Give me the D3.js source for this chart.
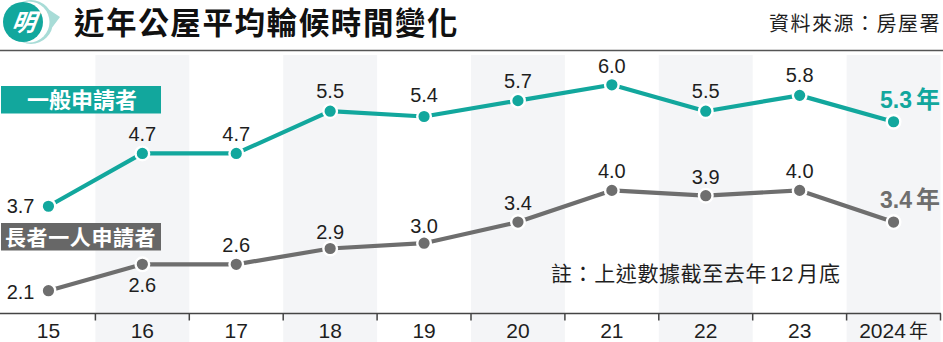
<!DOCTYPE html>
<html>
<head>
<meta charset="utf-8">
<script src="https://cdn.jsdelivr.net/npm/d3@7/dist/d3.min.js"></script>
<style>
  html, body { margin: 0; padding: 0; background: #fff; }
  svg { display: block; }
</style>
</head>
<body>
<svg id="chart" width="943" height="342"></svg>
<script>
// Average waiting time for public rental housing (years)
const years = ["15", "16", "17", "18", "19", "20", "21", "22", "23", "2024"];
const yearUnit = "年";
const generalApplicants = [3.7, 4.7, 4.7, 5.5, 5.4, 5.7, 6.0, 5.5, 5.8, 5.3];
const elderlyOnePerson = [2.1, 2.6, 2.6, 2.9, 3.0, 3.4, 4.0, 3.9, 4.0, 3.4];
const seriesNames = ["一般申請者", "長者一人申請者"];
const titleText = "近年公屋平均輪候時間變化";
const sourceText = "資料來源：房屋署";
const notePre = "註：上述數據截至去年";
const noteNum = "12";
const notePost = "月底";

const TEAL = "#12a79d";
const GREY = "#6e6e6e";
const INK = "#1e1e1e";
const CJK = "'Noto Sans CJK TC', 'Noto Sans CJK SC', sans-serif";
const NUM = "'Liberation Sans', Arial, Helvetica, sans-serif";

const W = 943, H = 342;
const svg = d3.select("#chart");

const x = d3.scaleBand().domain(years).range([1.5, 940.5]).paddingInner(0).paddingOuter(0);
const y = d3.scaleLinear().domain([0, 6]).range([401.6, 84.8]);
const axisY = 313.5;
const cx = d => x(d) + x.bandwidth() / 2;

// alternating column shading
svg.append("g").selectAll("rect")
  .data(years.filter((d, i) => i % 2 === 1))
  .join("rect")
  .attr("x", d => x(d)).attr("y", 55)
  .attr("width", x.bandwidth()).attr("height", H - 55)
  .attr("fill", "#f4f5f7");

// header rule
svg.append("line").attr("x1", 0).attr("x2", W).attr("y1", 50.5).attr("y2", 50.5)
  .attr("stroke", "#555").attr("stroke-width", 1.3);

// logo
const logo = svg.append("g");
logo.append("path")
  .attr("d", "M31,0 A22,22 0 1,1 31,44 A22,22 0 1,1 31,0 Z M48,9 L60,17 L51,29 Z")
  .attr("fill", "#a8dcd7");
logo.append("circle").attr("cx", 29).attr("cy", 22).attr("r", 20.5).attr("fill", "#fff");
logo.append("circle").attr("cx", 23).attr("cy", 22).attr("r", 20).attr("fill", TEAL);
logo.append("text").attr("x", 23).attr("y", 31)
  .attr("text-anchor", "middle")
  .attr("font-family", CJK).attr("font-weight", 700).attr("font-size", 24)
  .attr("font-style", "italic").attr("fill", "#fff")
  .attr("transform", "skewX(-8) translate(4,0)")
  .text("明");

// title and source
svg.append("text").attr("x", 74).attr("y", 34)
  .attr("font-family", CJK).attr("font-weight", 700).attr("font-size", 30.5)
  .attr("letter-spacing", 1.6).attr("fill", "#111")
  .text(titleText);
svg.append("text").attr("x", 941).attr("y", 31).attr("text-anchor", "end")
  .attr("font-family", CJK).attr("font-size", 20).attr("letter-spacing", 1.5)
  .attr("fill", INK).text(sourceText);

// x axis
const axis = d3.axisBottom(x).tickSize(0).tickPadding(0);
const gx = svg.append("g").attr("transform", `translate(0,${axisY})`).call(axis);
gx.select(".domain").remove();
gx.selectAll(".tick text")
  .attr("y", 24.5).attr("dy", 0)
  .attr("font-family", NUM).attr("font-size", 21).attr("fill", INK);
const lastTick = gx.selectAll(".tick").filter(d => d === years[years.length - 1]).select("text");
lastTick.text(null);
lastTick.append("tspan").text(years[years.length - 1]);
lastTick.append("tspan").attr("font-family", CJK).attr("font-size", 19).attr("dx", 3).text(yearUnit);
svg.append("line").attr("x1", 0).attr("x2", 941).attr("y1", axisY).attr("y2", axisY)
  .attr("stroke", "#444").attr("stroke-width", 1.5);
svg.append("g").selectAll("line")
  .data(years.slice(1).map(d => x(d)).concat([x.range()[1]]))
  .join("line")
  .attr("x1", d => d).attr("x2", d => d)
  .attr("y1", axisY).attr("y2", axisY + 7)
  .attr("stroke", "#444").attr("stroke-width", 1.5);

// note
const note = svg.append("text").attr("x", 551).attr("y", 281)
  .attr("font-family", CJK).attr("font-size", 21).attr("fill", INK);
note.append("tspan").attr("letter-spacing", 0.6).text(notePre);
note.append("tspan").attr("font-family", NUM).attr("dx", 3).text(noteNum);
note.append("tspan").attr("dx", 4).attr("letter-spacing", 0.6).text(notePost);

// series
const line = d3.line().x((d, i) => cx(years[i])).y(d => y(d));

function drawSeries(values, color, labelOffsets) {
  const g = svg.append("g");
  g.append("path").attr("d", line(values))
    .attr("fill", "none").attr("stroke", color).attr("stroke-width", 4.2)
    .attr("stroke-linejoin", "round");
  g.selectAll("circle").data(values).join("circle")
    .attr("cx", (d, i) => cx(years[i])).attr("cy", d => y(d))
    .attr("r", 6.8).attr("fill", color)
    .attr("stroke", "#fff").attr("stroke-width", 2.4);
  const last = values.length - 1;
  g.selectAll("text.val").data(values.slice(0, last)).join("text")
    .attr("class", "val")
    .attr("x", (d, i) => i === 0 ? cx(years[i]) - 14 : cx(years[i]))
    .attr("y", (d, i) => y(d) + labelOffsets[i])
    .attr("text-anchor", (d, i) => i === 0 ? "end" : "middle")
    .attr("font-family", NUM).attr("font-size", 20).attr("fill", INK)
    .text(d => d.toFixed(1));
  const endLabel = g.append("text")
    .attr("x", 940).attr("y", y(values[last]) - 14)
    .attr("text-anchor", "end").attr("fill", color).attr("font-weight", 700);
  endLabel.append("tspan").attr("font-family", NUM).attr("font-size", 23)
    .text(values[last].toFixed(1));
  endLabel.append("tspan").attr("font-family", CJK).attr("font-size", 24).attr("dx", 4)
    .text(yearUnit);
}

drawSeries(generalApplicants, TEAL, [7, -12, -12, -13, -14, -13, -12, -13, -13]);
drawSeries(elderlyOnePerson, GREY, [8, 28, -12, -9.5, -10.5, -12, -12, -12, -12]);

// series tags
const tags = [
  { name: seriesNames[0], color: TEAL, top: 86, tx: 27, size: 22, ls: 0 },
  { name: seriesNames[1], color: "#676767", top: 223, tx: 5, size: 21, ls: 0.6 }
];
tags.forEach(t => {
  svg.append("rect").attr("x", 1).attr("y", t.top).attr("width", 160).attr("height", 27.5)
    .attr("fill", t.color);
  svg.append("text").attr("x", t.tx).attr("y", t.top + 21.5)
    .attr("font-family", CJK).attr("font-weight", 700).attr("font-size", t.size)
    .attr("letter-spacing", t.ls).attr("fill", "#fff").text(t.name);
});
</script>
</body>
</html>
